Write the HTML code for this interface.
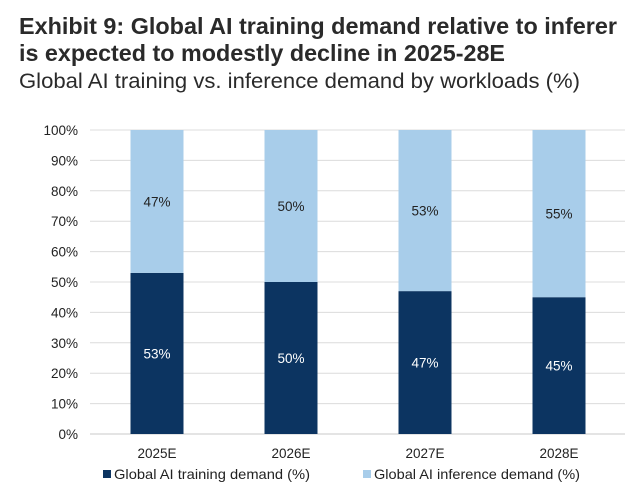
<!DOCTYPE html>
<html><head><meta charset="utf-8"><style>
body{margin:0;background:#fff;}
svg{display:block;font-family:"Liberation Sans",Arial,sans-serif;}
</style></head><body>
<svg id="chart" width="640" height="498" viewBox="0 0 640 498">
<text x="19" y="34" font-size="23" font-weight="bold" fill="#2a2a2a" textLength="598" lengthAdjust="spacingAndGlyphs">Exhibit 9: Global AI training demand relative to inferer</text>
<text x="19" y="61" font-size="23" font-weight="bold" fill="#2a2a2a" textLength="486" lengthAdjust="spacingAndGlyphs">is expected to modestly decline in 2025-28E</text>
<text x="19" y="88" font-size="21" fill="#2a2a2a" textLength="561" lengthAdjust="spacingAndGlyphs">Global AI training vs. inference demand by workloads (%)</text>
<g id="grid"></g><g id="bars"></g><g id="labels"></g>
<g>
<rect x="103" y="470" width="8" height="8" fill="#0c3461"/>
<text x="114" y="479" font-size="14" fill="#222" textLength="196" lengthAdjust="spacingAndGlyphs">Global AI training demand (%)</text>
<rect x="363" y="470" width="8" height="8" fill="#a8cdea"/>
<text x="374" y="479" font-size="14" fill="#222" textLength="206" lengthAdjust="spacingAndGlyphs">Global AI inference demand (%)</text>
</g>
</svg>
<script>
const categories=["2025E","2026E","2027E","2028E"];
const training=[53,50,47,45];
const inference=[47,50,53,55];
const yTicks=[0,10,20,30,40,50,60,70,80,90,100];
const NS="http://www.w3.org/2000/svg";
const y0=434,y1=130,xL=90,xR=625,band=134,bw=53;
function y(v){return y0-(v/100)*(y0-y1);}
function xc(i){return xL+band*(i+0.5);}
function mk(tag,attrs,parent,txt){const e=document.createElementNS(NS,tag);for(const k in attrs)e.setAttribute(k,attrs[k]);if(txt!=null)e.textContent=txt;parent.appendChild(e);return e;}
const grid=document.getElementById('grid'),bars=document.getElementById('bars'),labels=document.getElementById('labels');
yTicks.forEach(t=>{
 const l=mk('line',{x1:xL,x2:xR,y1:y(t),y2:y(t),stroke:t===0?'#c8c8c8':'#dcdcdc','stroke-width':1},grid);
 
 
 const tx=mk('text',{x:78,y:y(t)+5,'text-anchor':'end','font-size':13.5,fill:'#222'},grid,t+'%');
 
 
});
categories.forEach((c,i)=>{
 const cx=xc(i);
 const bt=mk('rect',{x:cx-bw/2,y:y(training[i]),width:bw,height:y(0)-y(training[i]),fill:'#0c3461'},bars);
 
 
 const top=training[i]+inference[i];
 const bi=mk('rect',{x:cx-bw/2,y:y(top),width:bw,height:y(training[i])-y(top),fill:'#a8cdea'},bars);
 
 
 const lt=mk('text',{x:cx,y:(y(0)+y(training[i]))/2+5,'text-anchor':'middle','font-size':13.5,fill:'#fff'},labels,training[i]+'%');
 
 
 const li=mk('text',{x:cx,y:(y(training[i])+y(top))/2+5,'text-anchor':'middle','font-size':13.5,fill:'#222'},labels,inference[i]+'%');
 
 
 const xl=mk('text',{x:cx,y:458,'text-anchor':'middle','font-size':13.5,fill:'#222'},labels,c);
 
 
});
</script>
</body></html>
